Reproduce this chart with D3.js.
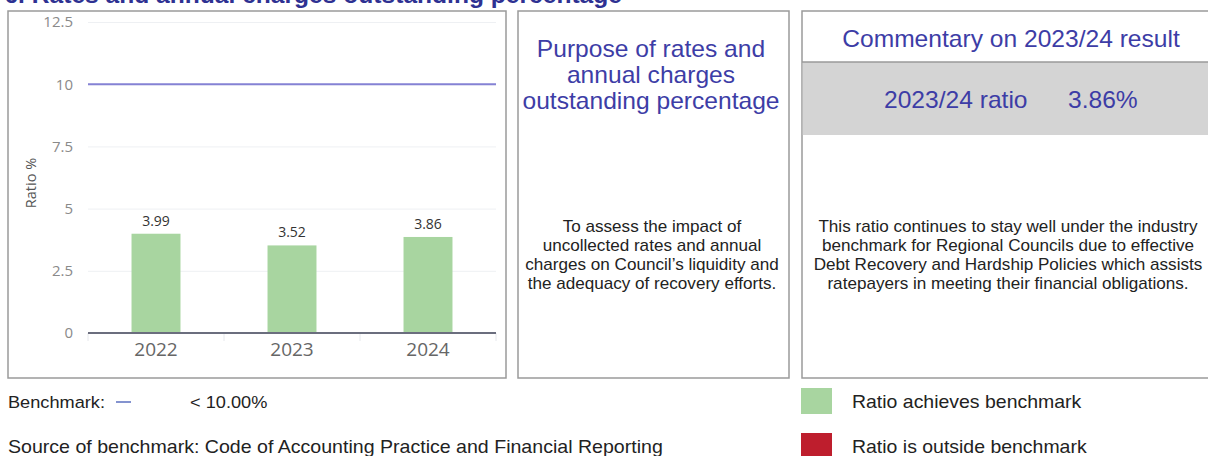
<!DOCTYPE html>
<html>
<head>
<meta charset="utf-8">
<script src="https://cdn.jsdelivr.net/npm/d3@7"></script>
<style>
  body { margin: 0; background: #fff; }
  svg { display: block; }
  .panel { fill: #fff; stroke: #9a9a9a; stroke-width: 1.5; }
  .tick text { font-family: "Open Sans", sans-serif; }
  .arial { font-family: "Liberation Sans", Arial, sans-serif; }
</style>
</head>
<body>
<svg width="1208" height="456"></svg>
<script>
const years = ['2022', '2023', '2024'];
const ratios = [3.99, 3.52, 3.86];
const yTicks = [0, 2.5, 5, 7.5, 10, 12.5];
const benchmark = 10;

const purposeTitle = ['Purpose of rates and', 'annual charges', 'outstanding percentage'];
const purposeBody = [
    'To assess the impact of',
    'uncollected rates and annual',
    'charges on Council\u2019s liquidity and',
    'the adequacy of recovery efforts.',
];
const commentBody = [
    'This ratio continues to stay well under the industry',
    'benchmark for Regional Councils due to effective',
    'Debt Recovery and Hardship Policies which assists',
    'ratepayers in meeting their financial obligations.',
];

const blue = '#3d3da6';
const green = '#a8d5a0';
const red = '#be1e2d';
const stretch = 1.07; // the page text is a little wider than plain Arial

const svg = d3.select('svg');

// arial text, stretched sideways like the reference
const addText = (x, y, str, size, fill, anchor, weight) => svg.append('text')
    .attr('class', 'arial')
    .attr('transform', `translate(${x}, ${y}) scale(${stretch}, 1)`)
    .attr('text-anchor', anchor || 'start')
    .attr('font-size', size)
    .attr('font-weight', weight || 'normal')
    .attr('fill', fill)
    .text(str);

// cut-off section title
addText(622, 3, '6. Rates and annual charges outstanding percentage', 23, '#2e3192', 'end', 'bold');

// panels
svg.append('rect').attr('class', 'panel').attr('x', 8).attr('y', 11).attr('width', 498).attr('height', 367);
svg.append('rect').attr('class', 'panel').attr('x', 518).attr('y', 11).attr('width', 271).attr('height', 367);
svg.append('rect').attr('class', 'panel').attr('x', 802).attr('y', 11).attr('width', 420).attr('height', 367);

// chart
const xScale = d3.scaleBand()
    .range([88, 496])
    .domain(years)
    .paddingInner(0.64)
    .paddingOuter(0.32);

const yScale = d3.scaleLinear()
    .range([333, 22])
    .domain([0, 12.5]);

// grid lines
svg.append('g')
    .attr('transform', 'translate(88, 0)')
    .call(d3.axisLeft(yScale).tickValues(yTicks).tickSize(-408).tickFormat(''))
    .call(g => g.select('.domain').remove())
    .call(g => g.selectAll('line').attr('stroke', '#eef0f3'));

svg.append('g')
    .attr('transform', 'translate(76, 0)')
    .call(d3.axisLeft(yScale).tickValues(yTicks).tickSize(0).tickFormat(d3.format('')))
    .call(g => g.select('.domain').remove())
    .call(g => g.selectAll('text').attr('fill', '#8a8a8a').attr('font-size', 15));

svg.append('text')
    .attr('transform', 'translate(36, 183) rotate(-90)')
    .attr('text-anchor', 'middle')
    .attr('font-family', '"Open Sans", sans-serif')
    .attr('font-size', 14.5)
    .attr('fill', '#555')
    .text('Ratio %');

// x tick marks at band edges
const edges = years.map((y) => xScale(y) - xScale.step() * xScale.paddingInner() / 2)
    .concat([xScale(years[years.length - 1]) + xScale.bandwidth() + xScale.step() * xScale.paddingInner() / 2]);
svg.append('g')
    .selectAll('line')
    .data(edges)
    .enter()
    .append('line')
    .attr('x1', (d) => d).attr('x2', (d) => d)
    .attr('y1', 333).attr('y2', 341)
    .attr('stroke', '#e6e8ec');

svg.append('g')
    .attr('transform', 'translate(0, 333)')
    .call(d3.axisBottom(xScale).tickSize(0).tickPadding(10))
    .call(g => g.select('.domain').remove())
    .call(g => g.selectAll('text').attr('fill', '#666').attr('font-size', 19));

svg.append('g')
    .selectAll('rect')
    .data(ratios)
    .enter()
    .append('rect')
    .attr('x', (d, i) => xScale(years[i]))
    .attr('y', (d) => yScale(d))
    .attr('width', xScale.bandwidth())
    .attr('height', (d) => yScale(0) - yScale(d))
    .attr('fill', green);

svg.append('g')
    .selectAll('text')
    .data(ratios)
    .enter()
    .append('text')
    .attr('x', (d, i) => xScale(years[i]) + xScale.bandwidth() / 2)
    .attr('y', (d) => yScale(d) - 8)
    .attr('text-anchor', 'middle')
    .attr('font-family', '"Open Sans", sans-serif')
    .attr('font-size', 14)
    .attr('fill', '#333')
    .text((d) => d.toFixed(2));

svg.append('line')
    .attr('x1', 88).attr('x2', 496)
    .attr('y1', yScale(0)).attr('y2', yScale(0))
    .attr('stroke', '#6b6e7e')
    .attr('stroke-width', 2);

svg.append('line')
    .attr('x1', 88).attr('x2', 496)
    .attr('y1', yScale(benchmark)).attr('y2', yScale(benchmark))
    .attr('stroke', '#8582d4')
    .attr('stroke-width', 2);

// purpose panel
purposeTitle.forEach((t, i) => addText(651, 57 + i * 26, t, 23, blue, 'middle'));
purposeBody.forEach((t, i) => addText(652, 232 + i * 19, t, 16, '#222', 'middle'));

// commentary panel
addText(1011, 47, 'Commentary on 2023/24 result', 23, blue, 'middle');

svg.append('rect')
    .attr('x', 802.75).attr('y', 62)
    .attr('width', 410).attr('height', 73)
    .attr('fill', '#d4d4d4');
svg.append('line')
    .attr('x1', 802).attr('x2', 1208)
    .attr('y1', 62).attr('y2', 62)
    .attr('stroke', '#9a9a9a')
    .attr('stroke-width', 1.5);

addText(884, 108, '2023/24 ratio', 23, blue);
addText(1068, 108, ratios[ratios.length - 1].toFixed(2) + '%', 23, blue);

commentBody.forEach((t, i) => addText(1008, 232 + i * 19, t, 16, '#222', 'middle'));

// footer
addText(8, 408, 'Benchmark:', 17, '#222');
svg.append('line')
    .attr('x1', 116).attr('x2', 131)
    .attr('y1', 402).attr('y2', 402)
    .attr('stroke', '#5b6fbf')
    .attr('stroke-width', 1.5);
addText(190, 408, '< ' + benchmark.toFixed(2) + '%', 17, '#222');
addText(8, 453, 'Source of benchmark: Code of Accounting Practice and Financial Reporting', 18.3, '#222');

const legend = [
    { label: 'Ratio achieves benchmark', color: green, y: 388 },
    { label: 'Ratio is outside benchmark', color: red, y: 433 },
];
legend.forEach((l) => {
    svg.append('rect')
        .attr('x', 801).attr('y', l.y)
        .attr('width', 31).attr('height', 26)
        .attr('fill', l.color);
    addText(852, l.y + 20, l.label, 18.2, '#222');
});
</script>
</body>
</html>
